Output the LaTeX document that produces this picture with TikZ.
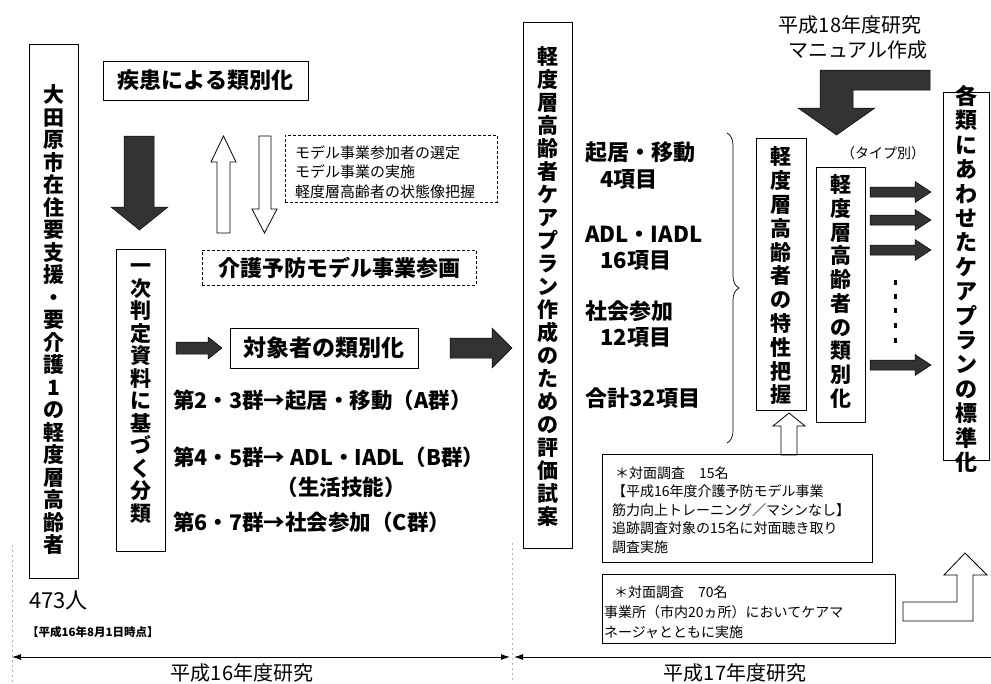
\documentclass[tikz,border=0pt]{standalone}
\usepackage{fontspec}
\setmainfont{Noto Sans CJK JP}
\usetikzlibrary{decorations.pathreplacing,arrows.meta}
\begin{document}
\begin{tikzpicture}[x=1pt,y=-1pt,
  box/.style={draw=black, line width=0.8pt, inner sep=0pt},
  dbox/.style={draw=black, dash pattern=on 3pt off 2pt, line width=0.7pt, inner sep=0pt},
  vt/.style={align=center, inner sep=0pt, font=\fontsize{21}{22.5}\selectfont\bfseries},
  lbl/.style={inner sep=0pt, font=\fontsize{22}{26}\selectfont\bfseries},
  reg/.style={inner sep=0pt, font=\fontsize{20}{24}\selectfont},
  small/.style={inner sep=0pt, align=left, font=\fontsize{14}{18.5}\selectfont},
  darkarrow/.style={fill=black!80, draw=black, line width=0.5pt},
  hollow/.style={fill=white, draw=black, line width=0.8pt, line join=miter},
]
\useasboundingbox (0,0) rectangle (991,683);

% ---------- left column ----------
\node[box, minimum width=49pt, minimum height=534pt] (resid) at (53.5,311) {};
\node[vt] (residt) at (53.5,320) {大\\田\\原\\市\\在\\住\\要\\支\\援\\・\\要\\介\\護\\1\\の\\軽\\度\\層\\高\\齢\\者};
\node[anchor=west, inner sep=0pt, font=\fontsize{22}{26}\selectfont] (n473) at (29,600) {473人};
\node[anchor=west, inner sep=0pt, font=\fontsize{11.5}{14}\selectfont\bfseries] (date) at (27,632) {【平成16年8月1日時点】};

\node[box, minimum width=205pt, minimum height=39pt, lbl] (shikkan) at (205.5,80.5) {疾患による類別化};

% black down arrow
\fill[darkarrow] (124,136) -- (154,136) -- (154,207) -- (168,207) -- (139.5,230) -- (111,207) -- (124,207) -- cycle;
% hollow up / down arrows
\draw[hollow] (217,233) -- (217,162) -- (211,162) -- (223.5,136) -- (236,162) -- (230,162) -- (230,233) -- cycle;
\draw[hollow] (259,136) -- (271,136) -- (271,209) -- (277,209) -- (264.5,233) -- (252,209) -- (259,209) -- cycle;

\node[dbox, minimum width=212pt, minimum height=67pt] (model) at (391,168.5) {};
\node[anchor=west, inner sep=0pt, align=left, font=\fontsize{15}{19.5}\selectfont] (modelt) at (295,172)
  {モデル事業参加者の選定\\モデル事業の実施\\軽度層高齢者の状態像把握};

\node[dbox, minimum width=274pt, minimum height=35pt, lbl] (sankaku) at (339,267.5) {介護予防モデル事業参画};

\node[box, minimum width=49pt, minimum height=302pt] (ichiji) at (140.5,400) {};
\node[vt] (ichijit) at (140.5,393.5) {一\\次\\判\\定\\資\\料\\に\\基\\づ\\く\\分\\類};

% small arrow to target box
\fill[darkarrow] (176,342) -- (208,342) -- (208,337) -- (222,348) -- (208,359) -- (208,354) -- (176,354) -- cycle;
\node[box, minimum width=188pt, minimum height=40pt, inner sep=0pt, font=\fontsize{23}{27}\selectfont\bfseries] (taisho) at (324,348) {対象者の類別化};
% big arrow to evaluation box
\fill[darkarrow] (450,338) -- (492,338) -- (492,328) -- (512,348) -- (492,368) -- (492,358) -- (450,358) -- cycle;

\node[lbl, anchor=west, font=\fontsize{21.5}{26}\selectfont\bfseries] (gA) at (173,400) {第2・3群→起居・移動（A群）};
\node[lbl, anchor=west, font=\fontsize{21.5}{26}\selectfont\bfseries] (gB) at (173,457) {第4・5群→ ADL・IADL（B群）};
\node[lbl, font=\fontsize{21.5}{26}\selectfont\bfseries] (gB2) at (341,487) {（生活技能）};
\node[lbl, anchor=west, font=\fontsize{21.5}{26}\selectfont\bfseries] (gC) at (173,522) {第6・7群→社会参加（C群）};

% ---------- middle ----------
\node[box, minimum width=49pt, minimum height=526pt] (hyoka) at (547.5,285) {};
\node[vt, font=\fontsize{21}{23}\selectfont\bfseries] (hyokat) at (547.5,286) {軽\\度\\層\\高\\齢\\者\\ケ\\ア\\プ\\ラ\\ン\\作\\成\\の\\た\\め\\の\\評\\価\\試\\案};

\node[lbl, anchor=west] (i1) at (585,152) {起居・移動};
\node[lbl, anchor=west] (i1n) at (600,180) {4項目};
\node[lbl, anchor=west] (i2) at (585,234) {ADL・IADL};
\node[lbl, anchor=west] (i2n) at (600,261) {16項目};
\node[lbl, anchor=west] (i3) at (585,311) {社会参加};
\node[lbl, anchor=west] (i3n) at (600,338) {12項目};
\node[lbl, anchor=west] (i4) at (585,398) {合計32項目};

\coordinate (bt) at (727,133);
\coordinate (bb) at (727,443);
\draw[line width=0.7pt, decorate, decoration={brace, amplitude=12pt, aspect=0.5}] (bt) -- (bb);

\node[box, minimum width=50pt, minimum height=272pt] (tokusei) at (781,274) {};
\node[vt, font=\fontsize{21}{23.8}\selectfont\bfseries] (tokuseit) at (781,276) {軽\\度\\層\\高\\齢\\者\\の\\特\\性\\把\\握};

\node[box, minimum width=49pt, minimum height=255pt] (ruibetsu) at (840.5,294.5) {};
\node[vt, font=\fontsize{21}{23.7}\selectfont\bfseries] (ruibetsut) at (840.5,291.5) {軽\\度\\層\\高\\齢\\者\\の\\類\\別\\化};

\node[inner sep=0pt, font=\fontsize{14}{17}\selectfont] (type) at (883,153) {（タイプ別）};

% hollow up arrow from survey box
\draw[hollow] (781,455) -- (781,426) -- (773,426) -- (789,413) -- (805,426) -- (797,426) -- (797,455) -- cycle;

% survey boxes
\node[box, minimum width=270pt, minimum height=108pt] (survey1) at (737,508) {};
\node[small, anchor=west] (survey1t) at (612,510)
  {\hspace*{3pt}＊対面調査　15名\\【平成16年度介護予防モデル事業\\筋力向上トレーニング／マシンなし】\\追跡調査対象の15名に対面聴き取り\\調査実施};
\node[box, minimum width=293pt, minimum height=69pt] (survey2) at (748.5,608.5) {};
\node[small, anchor=west, font=\fontsize{14}{20}\selectfont] (survey2t) at (604,612)
  {\hspace*{10pt}＊対面調査　70名\\事業所（市内20ヵ所）においてケアマ\\ネージャとともに実施};

% ---------- right ----------
\node[reg] (h18) at (850,25) {平成18年度研究};
\node[reg] (manual) at (858,50) {マニュアル作成};
\fill[darkarrow] (930,70) -- (820,70) -- (820,108) -- (798,108) -- (836.5,135) -- (875,108) -- (853,108) -- (853,90) -- (930,90) -- cycle;

\node[box, minimum width=46pt, minimum height=368pt] (kakurui) at (966,276) {};
\node[vt, font=\fontsize{22}{24.4}\selectfont\bfseries] (kakuruit) at (966,279) {各\\類\\に\\あ\\わ\\せ\\た\\ケ\\ア\\プ\\ラ\\ン\\の\\標\\準\\化};

\foreach \yy in {192,220,250,365} {
  \fill[darkarrow] (870,\yy-5) -- (915,\yy-5) -- (915,\yy-10.5) -- (931,\yy) -- (915,\yy+10.5) -- (915,\yy+5) -- (870,\yy+5) -- cycle;
}
\foreach \yy in {282,296,310,325,340} {
  \fill[black] (893.5,\yy-2.5) rectangle (897,\yy+2.5);
}

% hollow L arrow
\draw[hollow] (903,602) -- (957,602) -- (957,575) -- (944,575) -- (965,553) -- (987,575) -- (973,575) -- (973,621) -- (903,621) -- cycle;

% ---------- timeline ----------
\draw[gray!60, dash pattern=on 2pt off 3pt, line width=0.6pt] (12,545) -- (12,683);
\draw[gray!60, dash pattern=on 2pt off 3pt, line width=0.6pt] (512,543) -- (512,683);
\coordinate (t1l) at (12,657);
\coordinate (t1r) at (510,657);
\coordinate (t2l) at (514,657);
\coordinate (t2r) at (991,657);
\draw[line width=0.9pt, {Latex[length=9pt,width=6pt]}-{Latex[length=9pt,width=6pt]}] (t1l) -- (t1r);
\draw[line width=0.9pt, {Latex[length=9pt,width=6pt]}-] (t2l) -- (t2r);
\node[reg] (h16) at (242,673) {平成16年度研究};
\node[reg] (h17) at (735,673) {平成17年度研究};
\end{tikzpicture}
\end{document}
